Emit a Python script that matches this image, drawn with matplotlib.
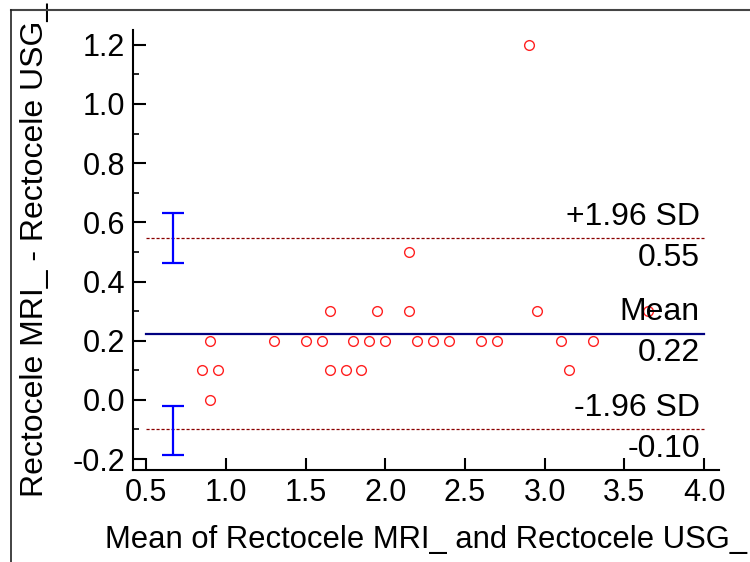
import matplotlib
matplotlib.use("Agg")
import matplotlib.pyplot as plt
from matplotlib.lines import Line2D
from matplotlib.ticker import MultipleLocator

plt.rcParams['font.family'] = ['Liberation Sans', 'DejaVu Sans']

# mean of the two methods / difference
mean_vals = [0.85, 0.9, 0.9, 0.95, 1.3, 1.5, 1.6, 1.65, 1.65, 1.75, 1.8, 1.85, 1.9, 1.95,
             2.0, 2.15, 2.15, 2.2, 2.3, 2.4, 2.6, 2.7, 2.9, 2.95, 3.1, 3.15, 3.3, 3.65]
diff_vals = [0.1, 0.2, 0.0, 0.1, 0.2, 0.2, 0.2, 0.3, 0.1, 0.1, 0.2, 0.1, 0.2, 0.3,
             0.2, 0.5, 0.3, 0.2, 0.2, 0.2, 0.2, 0.2, 1.2, 0.3, 0.2, 0.1, 0.2, 0.3]

bias = 0.223
upper_loa = 0.546
lower_loa = -0.099
upper_ci = [0.464, 0.633]
lower_ci = [-0.186, -0.022]
ci_x = 0.67
line_range = [0.5, 4.0]

x_ticks = [0.5, 1.0, 1.5, 2.0, 2.5, 3.0, 3.5, 4.0]
y_ticks = [-0.2, 0.0, 0.2, 0.4, 0.6, 0.8, 1.0, 1.2]

fig = plt.figure(figsize=(7.5, 5.62), dpi=100)
ax = fig.add_axes([0.1777, 0.1637, 0.781, 0.7829])

# reference lines
ax.plot(line_range, [bias, bias], color='#000080', lw=1.6, zorder=2)
ax.plot(line_range, [upper_loa, upper_loa], color='#8b0000', lw=0.9, ls=(0, (2.5, 1.5)), zorder=2)
ax.plot(line_range, [lower_loa, lower_loa], color='#8b0000', lw=0.9, ls=(0, (2.5, 1.5)), zorder=2)

# confidence intervals of the limits
for lo, hi in [upper_ci, lower_ci]:
    mid = (lo + hi) / 2
    ax.errorbar([ci_x], [mid], yerr=[[mid - lo], [hi - mid]], color='#0000ff',
                lw=1.6, capsize=8, capthick=1.6, fmt='none', zorder=3)

ax.plot(mean_vals, diff_vals, 'o', ms=7, mfc='none', mec='#ff2020', mew=1.0, zorder=4)

# labels next to lines
fs = 23
for yv, top, bottom in [(upper_loa, '+1.96 SD', '0.55'), (bias, 'Mean', '0.22'),
                        (lower_loa, '-1.96 SD', '-0.10')]:
    ax.annotate(top, (4.0, yv), xytext=(-3, 15.5), textcoords='offset points',
                ha='right', va='center', fontsize=fs, zorder=5)
    ax.annotate(bottom, (4.0, yv), xytext=(-3, -14), textcoords='offset points',
                ha='right', va='center', fontsize=fs, zorder=5)

ax.set_xlim(0.418, 4.094)
ax.set_ylim(-0.237, 1.25)
ax.set_xticks(x_ticks)
ax.set_xticklabels(['%.1f' % v for v in x_ticks])
ax.set_yticks(y_ticks)
ax.set_yticklabels(['%.1f' % v for v in y_ticks])
ax.yaxis.set_minor_locator(MultipleLocator(0.1))

for s in ['top', 'right']:
    ax.spines[s].set_visible(False)
for s in ['left', 'bottom']:
    ax.spines[s].set_linewidth(1.5)

ax.tick_params(axis='both', which='major', direction='in', length=9, width=1.5,
               labelsize=22, pad=6)
ax.tick_params(axis='y', which='minor', direction='in', length=4.5, width=1.2)

ax.set_xlabel('Mean of Rectocele MRI_ and Rectocele USG_', fontsize=22.3, labelpad=12)
ax.set_ylabel('Rectocele MRI_ - Rectocele USG_', fontsize=23, labelpad=16)

# frame of the original screenshot
fig.add_artist(Line2D([11 / 750, 1.0], [1 - 10 / 562, 1 - 10 / 562], color='#444444', lw=1.5))
fig.add_artist(Line2D([11 / 750, 11 / 750], [0.0, 1 - 10 / 562], color='#222222', lw=1.2))

fig.savefig('out.png', dpi=100)
